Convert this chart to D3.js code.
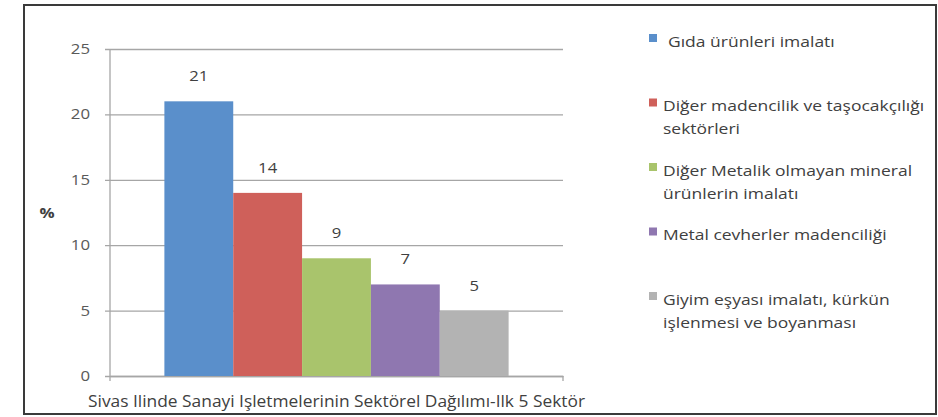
<!DOCTYPE html>
<html>
<head>
<meta charset="utf-8">
<script src="https://cdn.jsdelivr.net/npm/d3@7"></script>
<style>
  body { margin: 0; background: #fff; }
  svg { font-family: "Open Sans", "DejaVu Sans", sans-serif; }
</style>
</head>
<body>
<svg id="chart" width="938" height="417"></svg>
<script>
const category = "Sivas Ilinde Sanayi Işletmelerinin Sektörel Dağılımı-Ilk 5 Sektör";
const sectors = [
    "Gıda ürünleri imalatı",
    "Diğer madencilik ve taşocakçılığı sektörleri",
    "Diğer Metalik olmayan mineral ürünlerin imalatı",
    "Metal cevherler madenciliği",
    "Giyim eşyası imalatı, kürkün işlenmesi ve boyanması"
];
const legendLines = [
    ["Gıda ürünleri imalatı"],
    ["Diğer madencilik ve taşocakçılığı", "sektörleri"],
    ["Diğer Metalik olmayan mineral", "ürünlerin imalatı"],
    ["Metal cevherler madenciliği"],
    ["Giyim eşyası imalatı, kürkün", "işlenmesi ve boyanması"]
];
const values = [21, 14, 9, 7, 5];
const yTicks = [0, 5, 10, 15, 20, 25];
const colors = ["#5a8fcb", "#cf605a", "#a9c46c", "#8f77b0", "#b3b3b3"];

const svg = d3.select("#chart");

// the source picture is stretched sideways, so widen the text the same way
function stretch(sel, s) {
    sel.each(function() {
        const t = d3.select(this);
        const px = +t.attr("x") || 0, py = +t.attr("y") || 0;
        t.attr("transform", `translate(${px},${py}) scale(${s},1) translate(${-px},${-py})`);
    });
}

// outer frame
svg.append("rect")
    .attr("x", 24).attr("y", 5)
    .attr("width", 912).attr("height", 409)
    .attr("fill", "#fff")
    .attr("stroke", "#3a3a3a")
    .attr("stroke-width", 2);

const margin = {left: 110, top: 49, right: 563, bottom: 376};

const y = d3.scaleLinear().domain([0, 25]).range([margin.bottom, margin.top]);
const x0 = d3.scaleBand().domain([category]).range([margin.left, margin.right]).paddingOuter(0.158).paddingInner(0);
const x1 = d3.scaleBand().domain(sectors).range([0, x0.bandwidth()]).padding(0);

// gridlines + y axis
const yAxis = d3.axisLeft(y).tickValues(yTicks).tickSize(-(margin.right - margin.left)).tickPadding(20);
const gy = svg.append("g").attr("transform", `translate(${margin.left},0)`).call(yAxis)
    .attr("font-family", null);
gy.select(".domain").remove();
gy.selectAll(".tick line").attr("stroke", "#a6a6a6").attr("stroke-width", 1.3).attr("x1", -5);
gy.selectAll(".tick text").attr("fill", "#595959").attr("font-size", 14).call(stretch, 1.2);

svg.append("line")
    .attr("x1", margin.left).attr("x2", margin.left)
    .attr("y1", margin.top).attr("y2", margin.bottom)
    .attr("stroke", "#a6a6a6").attr("stroke-width", 1.3);

// x axis
const gx = svg.append("g").attr("transform", `translate(0,${margin.bottom})`)
    .call(d3.axisBottom(x0).tickSize(0).tickPadding(20))
    .attr("font-family", null);
gx.select(".domain").attr("stroke", "#a6a6a6").attr("stroke-width", 1.3);
gx.selectAll(".tick text").attr("fill", "#404040").attr("font-size", 16)
    .attr("textLength", 497).attr("lengthAdjust", "spacingAndGlyphs");
[margin.left, margin.right].forEach(px => {
    svg.append("line").attr("x1", px).attr("x2", px)
        .attr("y1", margin.bottom).attr("y2", margin.bottom + 5)
        .attr("stroke", "#a6a6a6").attr("stroke-width", 1.3);
});

// "%" label
svg.append("text")
    .attr("x", 47).attr("y", 218)
    .attr("text-anchor", "middle")
    .attr("font-size", 14).attr("font-weight", "bold")
    .attr("fill", "#404040")
    .text("%")
    .call(stretch, 1.2);

// bars
const barG = svg.append("g").attr("transform", `translate(${x0(category)},0)`);
barG.selectAll("rect")
    .data(values)
    .enter()
    .append("rect")
    .attr("x", (d, i) => x1(sectors[i]))
    .attr("y", d => y(d))
    .attr("width", x1.bandwidth())
    .attr("height", d => y(0) - y(d))
    .attr("fill", (d, i) => colors[i]);

barG.selectAll("text.lbl")
    .data(values)
    .enter()
    .append("text")
    .attr("class", "lbl")
    .attr("x", (d, i) => x1(sectors[i]) + x1.bandwidth() / 2)
    .attr("y", d => y(d) - 20)
    .attr("text-anchor", "middle")
    .attr("font-size", 14.5)
    .attr("fill", "#404040")
    .text(d => d)
    .call(stretch, 1.15);

// legend
const legend = svg.append("g");
legendLines.forEach((lines, i) => {
    const yy = 42 + i * 64.5;
    legend.append("rect")
        .attr("x", 649).attr("y", yy - 8)
        .attr("width", 8).attr("height", 8)
        .attr("fill", colors[i]);
    lines.forEach((ln, j) => {
        legend.append("text")
            .attr("x", i === 0 ? 668 : 663)
            .attr("y", yy + 5 + j * 23)
            .attr("font-size", 14)
            .attr("fill", "#404040")
            .text(ln)
            .call(stretch, 1.25);
    });
});
</script>
</body>
</html>
